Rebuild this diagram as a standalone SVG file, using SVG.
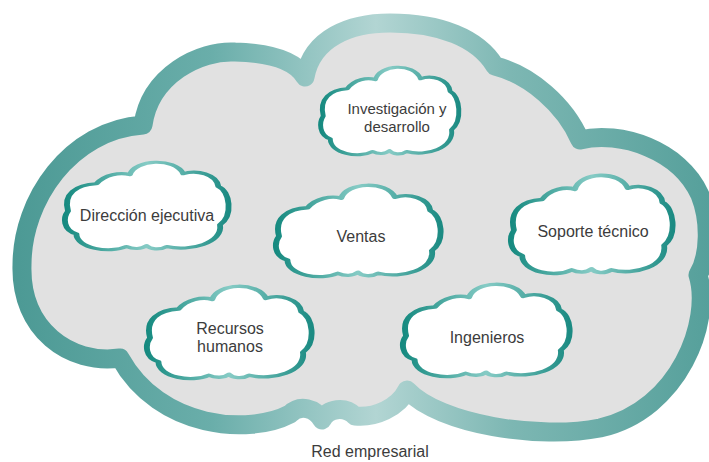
<svg xmlns="http://www.w3.org/2000/svg" width="709" height="462" viewBox="0 0 709 462">
  <defs>
    <linearGradient id="bandGrad" gradientUnits="userSpaceOnUse" x1="0" y1="0" x2="709" y2="0">
      <stop offset="0" stop-color="#4a9893"/>
      <stop offset="0.3" stop-color="#6aaeaa"/>
      <stop offset="0.53" stop-color="#b2d5d3"/>
      <stop offset="0.72" stop-color="#7db7b3"/>
      <stop offset="1" stop-color="#56a09b"/>
    </linearGradient>
    <linearGradient id="cloudGrad" x1="0" y1="0" x2="1" y2="0">
      <stop offset="0" stop-color="#168a80"/>
      <stop offset="0.5" stop-color="#86cbc5"/>
      <stop offset="1" stop-color="#1c8b83"/>
    </linearGradient>
    <path id="cloudShape" d="M3,55 C0,36 8,26 20,25 C25,15 34,12 40,15 C43,-2 67,-4 72,14 C80,9 92,15 93,28 C100,33 102,60 94,70 C96,90 76,100 62,94 C58,98 52,97 50,93 C47,97 42,97 38,94 C28,102 8,96 8,80 C0,76 0,62 3,55 Z"/>
  </defs>
  <style>
    .small { fill: #ffffff; stroke: url(#cloudGrad); stroke-width: 3.5; stroke-linejoin: round; }
    .lbl { font-family: "Liberation Sans", Arial, sans-serif; font-size: 16px; fill: #3c3c3c; text-anchor: middle; }
  </style>
  <rect width="709" height="462" fill="#ffffff"/>

  <g id="red-empresarial">
    <path d="M305,77 C312,38 350,23 390,23 C440,23 478,38 495,66 C530,75 565,105 580,140 C620,130 680,150 700,195 C710,220 710,255 698,275 C712,320 680,410 600,428 C540,440 440,425 407,390 C398,408 375,418 355,416 C345,406 328,408 322,420 C315,408 300,404 290,414 C250,435 160,430 120,358 C70,365 20,330 22,265 C22,200 70,130 143,125 C150,75 200,50 235,52 C270,53 295,60 305,77 Z" fill="#e1e1e1" stroke="url(#bandGrad)" stroke-width="19" stroke-linejoin="round"/>
    <text class="lbl" x="370" y="457">Red empresarial</text>
  </g>

  <g id="investigacion">
    <use href="#cloudShape" class="small" transform="translate(319,66) scale(1.41,0.91)"/>
    <text class="lbl" x="397" y="114" style="font-size:15px">Investigación y</text>
    <text class="lbl" x="397" y="132" style="font-size:15px">desarrollo</text>
  </g>

  <g id="direccion">
    <use href="#cloudShape" class="small" transform="translate(63,161) scale(1.67,0.91)"/>
    <text class="lbl" x="147" y="221">Dirección ejecutiva</text>
  </g>

  <g id="ventas">
    <use href="#cloudShape" class="small" transform="translate(274,184) scale(1.68,0.95)"/>
    <text class="lbl" x="361" y="242">Ventas</text>
  </g>

  <g id="soporte">
    <use href="#cloudShape" class="small" transform="translate(509,174) scale(1.65,1.02)"/>
    <text class="lbl" x="593" y="237">Soporte técnico</text>
  </g>

  <g id="recursos">
    <use href="#cloudShape" class="small" transform="translate(145,285) scale(1.68,0.96)"/>
    <text class="lbl" x="230" y="334">Recursos</text>
    <text class="lbl" x="230" y="352">humanos</text>
  </g>

  <g id="ingenieros">
    <use href="#cloudShape" class="small" transform="translate(401,283) scale(1.70,0.96)"/>
    <text class="lbl" x="487" y="343">Ingenieros</text>
  </g>

  <g id="connectors"/>
</svg>
